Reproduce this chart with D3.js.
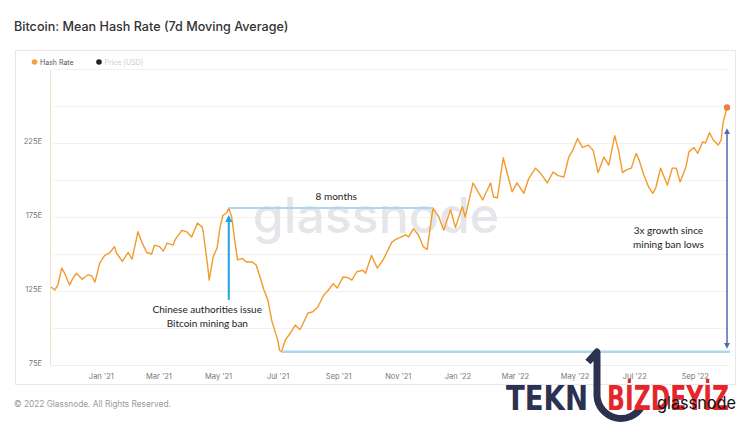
<!DOCTYPE html>
<html>
<head>
<meta charset="utf-8">
<script src="https://cdn.jsdelivr.net/npm/d3@7"></script>
<style>
  body { margin: 0; background: #fff; }
  svg { display: block; }
</style>
</head>
<body>
<div class="mainChart"></div>
<script>
// hash rate, 7d moving average
const dates = ["2020-11-11","2020-11-15","2020-11-18","2020-11-22","2020-11-25","2020-11-30",
  "2020-12-03","2020-12-07","2020-12-13","2020-12-16","2020-12-19","2020-12-23","2020-12-26","2020-12-31",
  "2021-01-05","2021-01-10","2021-01-15","2021-01-17","2021-01-23","2021-01-29",
  "2021-02-02","2021-02-08","2021-02-12","2021-02-17","2021-02-22","2021-02-25",
  "2021-03-02","2021-03-06","2021-03-10","2021-03-16","2021-03-18","2021-03-25","2021-03-30",
  "2021-04-04","2021-04-10","2021-04-15","2021-04-16","2021-04-20","2021-04-22","2021-04-26","2021-04-30",
  "2021-05-03","2021-05-06","2021-05-10","2021-05-12","2021-05-15","2021-05-18","2021-05-21","2021-05-26","2021-05-30",
  "2021-06-05","2021-06-09","2021-06-13","2021-06-17","2021-06-21","2021-06-25",
  "2021-07-01","2021-07-03","2021-07-05","2021-07-09","2021-07-14","2021-07-19","2021-07-22","2021-07-24","2021-07-27",
  "2021-08-01","2021-08-06","2021-08-11","2021-08-17","2021-08-22","2021-08-27","2021-08-31",
  "2021-09-06","2021-09-11","2021-09-15","2021-09-20","2021-09-26","2021-09-29",
  "2021-10-05","2021-10-11","2021-10-17","2021-10-22","2021-10-26","2021-10-29",
  "2021-11-03","2021-11-09","2021-11-12","2021-11-17","2021-11-22","2021-11-27",
  "2021-12-01","2021-12-07","2021-12-13","2021-12-18","2021-12-25","2021-12-30",
  "2022-01-06","2022-01-09","2022-01-17","2022-01-23","2022-01-27","2022-01-30",
  "2022-02-04","2022-02-07","2022-02-11","2022-02-14","2022-02-17","2022-02-22","2022-02-26",
  "2022-03-03","2022-03-10","2022-03-15","2022-03-22","2022-03-27",
  "2022-04-03","2022-04-09","2022-04-14","2022-04-20","2022-04-25","2022-04-29",
  "2022-05-04","2022-05-09","2022-05-15","2022-05-20","2022-05-25","2022-05-31",
  "2022-06-05","2022-06-11","2022-06-15","2022-06-19","2022-06-23","2022-06-28",
  "2022-07-03","2022-07-06","2022-07-11","2022-07-16","2022-07-20","2022-07-23","2022-07-28",
  "2022-08-04","2022-08-09","2022-08-13","2022-08-17","2022-08-23","2022-08-26","2022-08-31",
  "2022-09-04","2022-09-09","2022-09-12","2022-09-16","2022-09-20","2022-09-25","2022-09-28","2022-09-30",
  "2022-10-04"];

const hashRate = [127.7,125.7,129,140.5,137,129,
  133,137,133,134.5,136,135,131,144,
  149,150.7,155,150.7,145,151,
  146.6,165,158,151,150,156,
  155,152,157.4,156,159.5,166,165,
  161.5,171,168,164,144,132.4,148,154,
  168,176,178,181,175,159.5,146,147,144.6,
  144.6,142.6,134.5,125.7,119,105,
  92,85,84,92,96.6,102,100,99,103,
  110,111,114,122,125.7,130,127,
  134.5,134,132.4,138,139,137,
  149,140.5,146,152.7,158,159.5,
  161,163,161.5,167,163,155,
  153,181,175,166,180,168,
  182,175,198,191,186.5,191,
  198,188.5,188,202,215,202,192,
  198,191,201,208,204.7,
  198,205.4,203,202,215.5,220,
  228,222,223.6,220,205,215.5,
  210,230,220,205,206.8,208,
  218,213.5,203,195,191,194.6,208,
  196.6,208,208,198.6,209,219,222,
  218,225.7,225,232,227,223.6,227,239,
  249];

const yTicks = [75, 125, 175, 225];
const yGrid = [100, 125, 150, 175, 200, 225, 250, 275];
const legendLabels = ['Hash Rate', 'Price [USD]'];

const width = 753;
const height = 424;
const parse = d3.utcParse('%Y-%m-%d');
const data = dates.map((d, i) => ({ date: parse(d), value: hashRate[i] }));

let x = d3.scaleUtc()
  .domain([parse('2020-11-10'), parse('2022-10-05')])
  .range([50, 728]);
let y = d3.scaleLinear()
  .domain([75, 275])
  .range([365, 69]);

let svg = d3.select('.mainChart').append('svg')
  .attr('width', width)
  .attr('height', height)
  .style('font-family', 'Inter, sans-serif');

// title
svg.append('text')
  .attr('x', 14).attr('y', 31)
  .style('font-size', '12.6px').style('font-weight', 500)
  .attr('fill', '#333')
  .text('Bitcoin: Mean Hash Rate (7d Moving Average)');

// chart frame
svg.append('rect')
  .attr('x', 15.5).attr('y', 50.5)
  .attr('width', 720).attr('height', 334)
  .attr('fill', 'none').attr('stroke', '#e8e8e8');

// legend
const legendColors = ['#f4a13a', '#222'];
const legendText = ['#555', '#ccc'];
const legendX = [34.5, 99];
legendLabels.forEach((l, i) => {
  svg.append('circle').attr('cx', legendX[i]).attr('cy', 62).attr('r', 2.8).attr('fill', legendColors[i]);
  svg.append('text').attr('x', legendX[i] + 5.5).attr('y', 64.7)
    .style('font-size', '7px').attr('fill', legendText[i]).text(l);
});

// gridlines
svg.append('g').selectAll('line')
  .data(yGrid).enter().append('line')
  .attr('x1', 53).attr('x2', 728)
  .attr('y1', d => y(d) + 0.5).attr('y2', d => y(d) + 0.5)
  .attr('stroke', '#f1f1f1');

// watermark
svg.append('text')
  .attr('x', 376).attr('y', 233)
  .attr('text-anchor', 'middle')
  .style('font-size', '50px').style('font-weight', 500)
  .attr('fill', '#e4e6e9')
  .text('glassnode');

// axes
let yAxis = svg.append('g')
  .attr('transform', 'translate(50,0)')
  .call(d3.axisLeft(y).tickValues(yTicks).tickSize(0).tickPadding(8).tickFormat(d => d + 'E'));
yAxis.select('.domain').remove();
yAxis.selectAll('text').attr('dy', '0.05em').style('font-size', '7.5px').attr('fill', '#777').style('font-family', 'Inter, sans-serif');

svg.append('line')
  .attr('x1', 50.5).attr('x2', 50.5).attr('y1', 70).attr('y2', 365)
  .attr('stroke', '#f2e2cb');

let xAxis = svg.append('g')
  .attr('transform', 'translate(0,365)')
  .call(d3.axisBottom(x).ticks(d3.utcMonth.every(2)).tickSize(0).tickPadding(9).tickFormat(d3.utcFormat("%b '%y")));
xAxis.select('.domain').attr('stroke', '#eee');
xAxis.selectAll('text').style('font-size', '7.5px').attr('fill', '#777').style('font-family', 'Inter, sans-serif');

// hash rate line
svg.append('path')
  .datum(data)
  .attr('fill', 'none')
  .attr('stroke', '#f39a2b')
  .attr('stroke-width', 1.4)
  .attr('stroke-linejoin', 'round')
  .attr('d', d3.line().x(d => x(d.date)).y(d => y(d.value)));

const last = data[data.length - 1];
svg.append('circle')
  .attr('cx', x(last.date)).attr('cy', y(last.value))
  .attr('r', 3.2).attr('fill', '#ef7d3c');

// annotations
const peak = parse('2021-05-12');
const peakAgain = parse('2021-12-07');
const low = parse('2021-07-05');

svg.append('line')
  .attr('x1', x(peak)).attr('x2', x(peakAgain))
  .attr('y1', y(181)).attr('y2', y(181))
  .attr('stroke', '#a8d9f1').attr('stroke-width', 2);

svg.append('line')
  .attr('x1', x(low)).attr('x2', 730)
  .attr('y1', y(84)).attr('y2', y(84))
  .attr('stroke', '#a8d9f1').attr('stroke-width', 2.5);

const defs = svg.append('defs');
defs.append('marker').attr('id', 'headCyan')
  .attr('viewBox', '0 0 10 10').attr('refX', 5).attr('refY', 5)
  .attr('markerWidth', 3.5).attr('markerHeight', 3.5).attr('orient', 'auto-start-reverse')
  .append('path').attr('d', 'M0,0L10,5L0,10z').attr('fill', '#1ea3dc');
defs.append('marker').attr('id', 'headBlue')
  .attr('viewBox', '0 0 10 10').attr('refX', 5).attr('refY', 5)
  .attr('markerWidth', 4).attr('markerHeight', 4).attr('orient', 'auto-start-reverse')
  .append('path').attr('d', 'M0,0L10,5L0,10z').attr('fill', '#4a6cb3');

svg.append('line')
  .attr('x1', x(peak)).attr('x2', x(peak))
  .attr('y1', y(119)).attr('y2', y(174))
  .attr('stroke', '#1ea3dc').attr('stroke-width', 2)
  .attr('marker-end', 'url(#headCyan)');

svg.append('line')
  .attr('x1', x(last.date)).attr('x2', x(last.date))
  .attr('y1', y(88)).attr('y2', y(233))
  .attr('stroke', '#4a6cb3').attr('stroke-width', 1.5)
  .attr('marker-start', 'url(#headBlue)')
  .attr('marker-end', 'url(#headBlue)');

const note = svg.append('g')
  .style('font-family', 'Lato, sans-serif').style('font-size', '10px')
  .attr('fill', '#222').attr('text-anchor', 'middle');
note.append('text').attr('x', x(parse('2021-04-20'))).attr('y', y(119) + 13).text('Chinese authorities issue');
note.append('text').attr('x', x(parse('2021-04-20'))).attr('y', y(119) + 27).text('Bitcoin mining ban');
note.append('text').attr('x', x(parse('2021-08-30'))).attr('y', y(181) - 8).text('8 months');
note.append('text').attr('x', x(parse('2022-08-05'))).attr('y', 234).text('3x growth since');
note.append('text').attr('x', x(parse('2022-08-05'))).attr('y', 248).text('mining ban lows');

// footer
svg.append('text')
  .attr('x', 14).attr('y', 407)
  .style('font-size', '8.3px').attr('fill', '#9a9a9a')
  .text('\u00a9 2022 Glassnode. All Rights Reserved.');

// site watermark overlay
const wm = svg.append('g').style('font-family', "'DejaVu Sans', sans-serif").style('font-weight', 'bold');
wm.append('text').attr('x', 506).attr('y', 410)
  .attr('textLength', 82).attr('lengthAdjust', 'spacingAndGlyphs')
  .style('font-size', '33px').attr('fill', '#2d3150').text('TEKN');
wm.append('path')
  .attr('d', 'M588,362 L597,352 L597,396 A24,24 0 0 0 642,406')
  .attr('fill', 'none').attr('stroke', '#2d3150').attr('stroke-width', 7)
  .attr('stroke-linejoin', 'round');
wm.append('text').attr('x', 607).attr('y', 410)
  .attr('textLength', 122).attr('lengthAdjust', 'spacingAndGlyphs')
  .style('font-size', '33px').attr('fill', '#e4262c').text('B\u0130ZDEY\u0130Z');
svg.append('text').attr('x', 657).attr('y', 409)
  .attr('textLength', 79).attr('lengthAdjust', 'spacingAndGlyphs')
  .style('font-size', '17px').attr('fill', '#111').text('glassnode');
</script>
</body>
</html>
